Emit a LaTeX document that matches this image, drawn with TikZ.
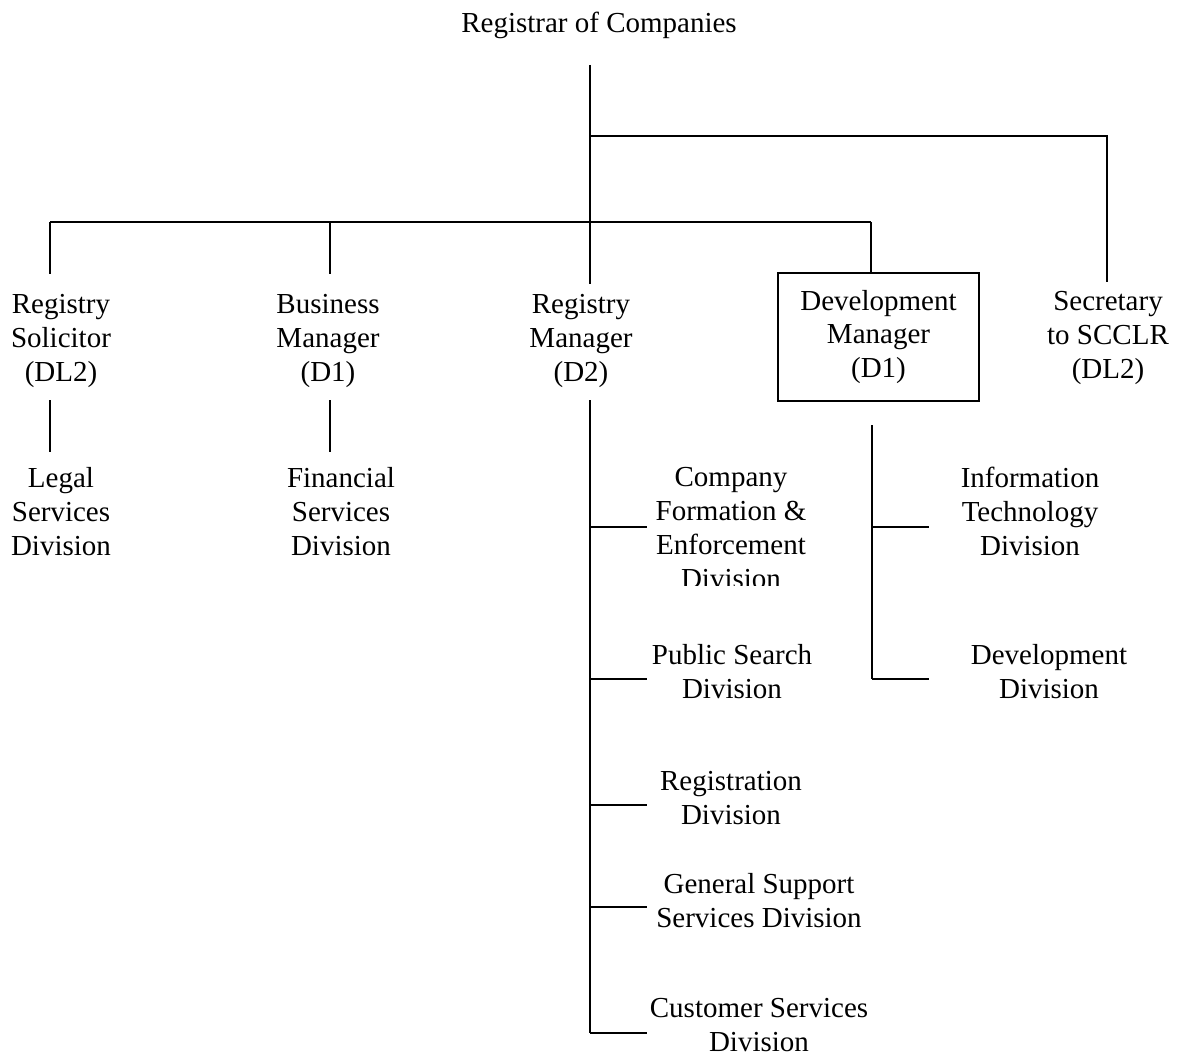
\documentclass[tikz,border=0pt]{standalone}
\usepackage{fontspec}
\setmainfont{Liberation Serif}
\begin{document}
\begin{tikzpicture}[x=1pt,y=-1pt,
  lbl/.style={font=\fontsize{29}{34}\selectfont, align=center, inner sep=0pt, anchor=north},
  boxed/.style={font=\fontsize{29}{33.5}\selectfont, align=center, draw, line width=1.5pt, minimum width=201pt, minimum height=128pt, inner sep=0pt},
  conn/.style={line width=1.6pt}]
\useasboundingbox (0,0) rectangle (1185,1059);
% nodes
\node[lbl] (roc) at (599,12) {Registrar of Companies};
\node[lbl] (rs) at (61,294) {Registry\\Solicitor\\(DL2)};
\node[lbl] (bm) at (328,294) {Business\\Manager\\(D1)};
\node[lbl] (rm) at (581,294) {Registry\\Manager\\(D2)};
\node[boxed] (dm) at (878.5,337) {Development\\Manager\\(D1)};
\node[lbl] (sec) at (1108,291) {Secretary\\to SCCLR\\(DL2)};
\node[lbl] (legal) at (61,467) {Legal\\Services\\Division};
\node[lbl] (fin) at (341,467) {Financial\\Services\\Division};
\begin{scope}
\clip (600,440) rectangle (900,585);
\node[lbl] (cfe) at (731,467) {Company\\Formation \&\\Enforcement\\Division};
\end{scope}
\node[lbl] (it) at (1030,467) {Information\\Technology\\Division};
\node[lbl] (ps) at (732,644) {Public Search\\Division};
\node[lbl] (dd) at (1049,644) {Development\\Division};
\node[lbl] (reg) at (731,771) {Registration\\Division};
\node[lbl] (gss) at (759,873) {General Support\\Services Division};
\node[lbl] (cs) at (759,998) {Customer Services\\Division};
% junction coordinates
\coordinate (t0) at (590,65);
\coordinate (ja) at (590,136);
\coordinate (jar) at (1107,136);
\coordinate (secTop) at (1107,282);
\coordinate (hl) at (50,222);
\coordinate (hb) at (330,222);
\coordinate (hr) at (871,222);
\coordinate (rsTop) at (50,274);
\coordinate (bmTop) at (330,274);
\coordinate (rmTop) at (590,284);
\coordinate (dmTop) at (871,273);
\coordinate (rsBot) at (50,400);
\coordinate (rsEnd) at (50,452);
\coordinate (bmBot) at (330,400);
\coordinate (bmEnd) at (330,452);
\coordinate (rmBot) at (590,400);
\coordinate (rmEnd) at (590,1033);
\coordinate (dmBot) at (872,425);
\coordinate (dmEnd) at (872,679);
% connectors
\draw[conn] (t0) -- (rmTop);
\draw[conn] (ja) -- (jar) -- (secTop);
\draw[conn] (hl) -- (hr);
\draw[conn] (hl) -- (rsTop);
\draw[conn] (hb) -- (bmTop);
\draw[conn] (hr) -- (dmTop);
\draw[conn] (rsBot) -- (rsEnd);
\draw[conn] (bmBot) -- (bmEnd);
\draw[conn] (rmBot) -- (rmEnd);
\draw[conn] (dmBot) -- (dmEnd);
\foreach \y/\n in {527/cfe,679/ps,805/reg,907/gss,1033/cs}{
  \coordinate (s\n) at (590,\y);
  \coordinate (e\n) at (647,\y);
  \draw[conn] (s\n) -- (e\n);
}
\foreach \y/\n in {527/it,679/dd}{
  \coordinate (s\n) at (872,\y);
  \coordinate (e\n) at (929,\y);
  \draw[conn] (s\n) -- (e\n);
}
\end{tikzpicture}
\end{document}
